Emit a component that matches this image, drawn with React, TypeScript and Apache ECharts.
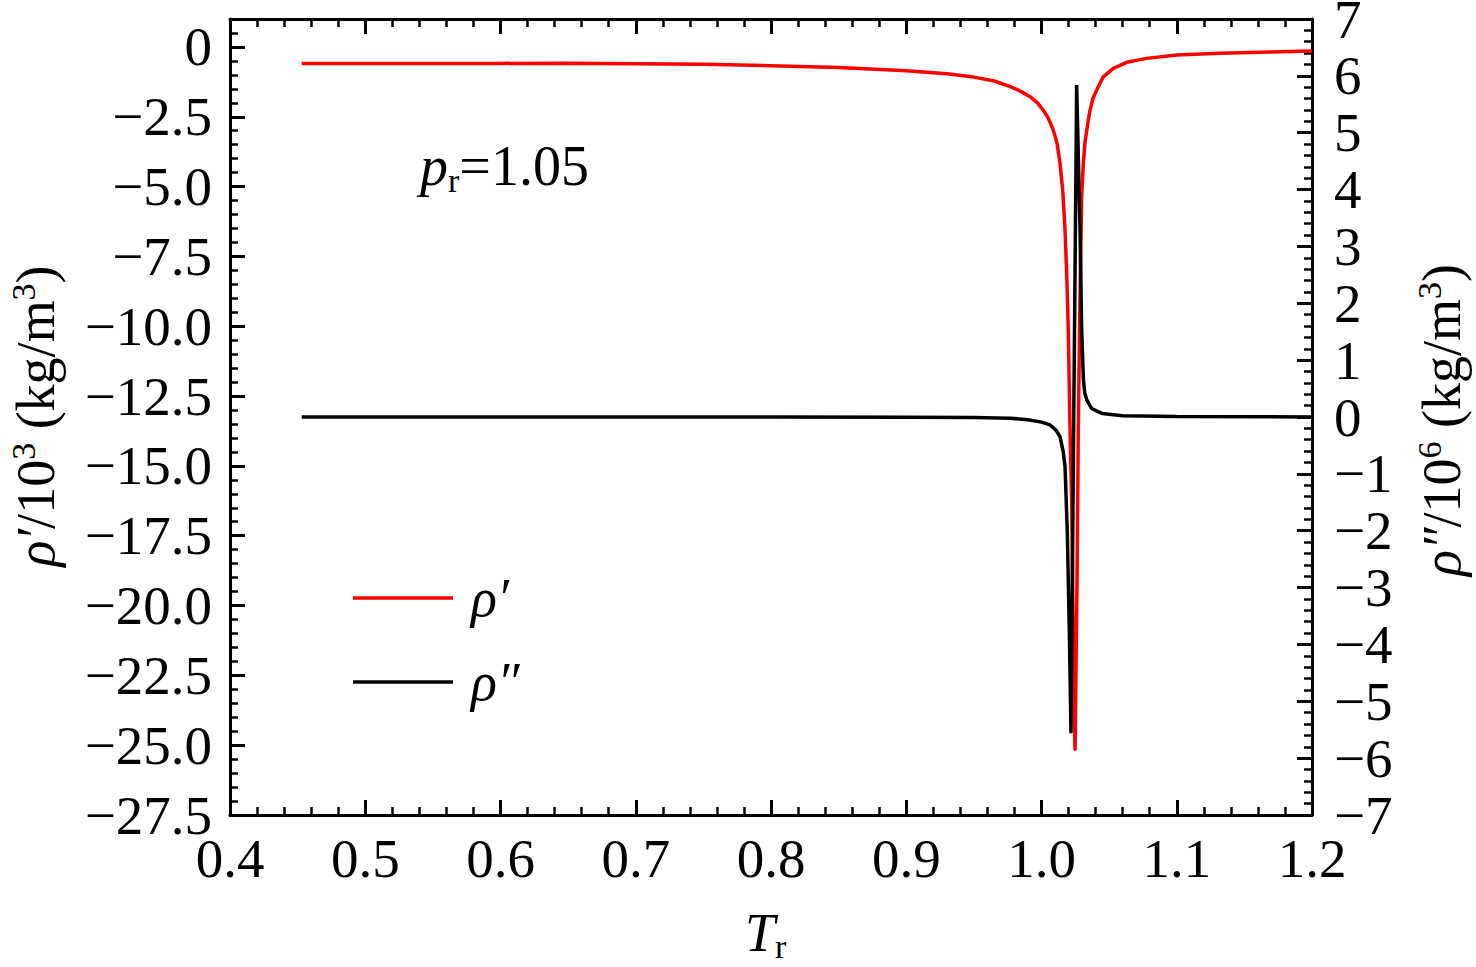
import React, { useEffect, useRef } from "react";
import * as echarts from "echarts";

// ρ′ (left axis, ×10^3 kg/m^3)
const trPrime = [
  0.453, 0.5, 0.55, 0.6, 0.65, 0.7, 0.75, 0.8, 0.85, 0.9, 0.93, 0.95, 0.965, 0.977,
  0.985, 0.9915, 0.997, 1.0013, 1.005, 1.0087, 1.0115, 1.0137, 1.0158, 1.0174, 1.0187,
  1.0198, 1.0211, 1.0223, 1.0235, 1.0248, 1.0262, 1.0272, 1.0285, 1.0297, 1.031, 1.0322,
  1.0346, 1.0359, 1.038, 1.0408, 1.0457, 1.0531, 1.063, 1.0778, 1.1, 1.132, 1.169, 1.2,
];
const rhoPrime = [
  -0.59, -0.59, -0.59, -0.59, -0.58, -0.6, -0.62, -0.67, -0.74, -0.85, -0.96, -1.08,
  -1.22, -1.42, -1.6, -1.78, -2.0, -2.26, -2.55, -2.97, -3.45, -4.17, -5.2, -6.55, -8.2,
  -10.1, -13.7, -16.2, -21.0, -25.2, -19.5, -13.7, -8.94, -5.36, -4.1, -3.4, -2.62, -2.26,
  -1.85, -1.54, -1.07, -0.77, -0.55, -0.41, -0.29, -0.23, -0.18, -0.15,
];

// ρ″ (right axis, ×10^6 kg/m^3)
const trDouble = [
  0.453, 0.6, 0.8, 0.9, 0.95, 0.977, 0.99, 1.0, 1.0063, 1.011, 1.0137, 1.016, 1.0174,
  1.0191, 1.0206, 1.0218, 1.026, 1.0285, 1.0297, 1.031, 1.032, 1.0335, 1.037, 1.045, 1.06,
  1.1, 1.2,
];
const rhoDouble = [
  0, 0, 0, -0.005, -0.01, -0.02, -0.05, -0.09, -0.14, -0.24, -0.35, -0.6, -0.87, -2.04,
  -3.8, -5.56, 5.84, 3.29, 1.53, 0.65, 0.42, 0.3, 0.15, 0.06, 0.02, 0.01, 0,
];

const legendNames = ["ρ′", "ρ″"];
const xRange = [0.4, 1.2];
const leftRange = [-27.5, 1.0];
const rightRange = [-7, 7];

const FONT = "Liberation Serif";
const fmtMinus = (s: string) => s.replace("-", "\u2212");

export default function App() {
  const ref = useRef<HTMLDivElement>(null);
  useEffect(() => {
    if (!ref.current) return;
    const chart = echarts.init(ref.current, undefined, { renderer: "svg" });
    const lineW = 3;
    const labelStyle = { fontFamily: FONT, fontSize: 55, color: "#000" };
    const baseAxisLine = { show: true, onZero: false, lineStyle: { color: "#000", width: lineW } };
    const majorTick = { show: true, inside: true, length: 15, lineStyle: { color: "#000", width: 3 } };
    const minorTick = { show: true, splitNumber: 5, length: 8, lineStyle: { color: "#000", width: 2.5 } };

    const option: any = {
      animation: false,
      grid: {
        left: 230,
        top: 19,
        width: 1082,
        height: 796,
        containLabel: false,
        outerBoundsMode: "none",
      },
      legend: {
        orient: "vertical",
        left: 348,
        top: 566,
        icon: "rect",
        itemWidth: 100,
        itemHeight: 3.5,
        itemGap: 30,
        data: legendNames,
        textStyle: {
          fontFamily: FONT,
          fontSize: 54,
          fontStyle: "italic",
          color: "#000",
          padding: [0, 0, 0, 13],
          lineHeight: 52,
        },
      },
      xAxis: [
        {
          type: "value",
          position: "bottom",
          min: xRange[0],
          max: xRange[1],
          interval: 0.1,
          axisLine: baseAxisLine,
          axisTick: majorTick,
          minorTick,
          splitLine: { show: false },
          axisLabel: {
            ...labelStyle,
            margin: 16,
            formatter: (v: number) => v.toFixed(1),
          },
        },
        {
          type: "value",
          position: "top",
          min: xRange[0],
          max: xRange[1],
          interval: 0.1,
          axisLine: baseAxisLine,
          axisTick: majorTick,
          minorTick,
          splitLine: { show: false },
          axisLabel: { show: false },
        },
      ],
      yAxis: [
        {
          type: "value",
          position: "left",
          min: leftRange[0],
          max: leftRange[1],
          interval: 2.5,
          axisLine: baseAxisLine,
          axisTick: majorTick,
          splitLine: { show: false },
          axisLabel: {
            ...labelStyle,
            margin: 18,
            lineHeight: 40,
            formatter: (v: number) => {
              const k = Math.round(v / 2.5);
              if (Math.abs(k * 2.5 - v) > 1e-6 || v > 0) return "";
              return v === 0 ? "0" : fmtMinus(v.toFixed(1));
            },
          },
        },
        {
          type: "value",
          position: "left",
          min: leftRange[0],
          max: leftRange[1],
          interval: 0.5,
          axisLine: { show: false, onZero: false },
          axisTick: { show: true, inside: true, length: 8, lineStyle: { color: "#000", width: 2.5 } },
          splitLine: { show: false },
          axisLabel: { show: false },
        },
        {
          type: "value",
          position: "right",
          min: rightRange[0],
          max: rightRange[1],
          interval: 1,
          axisLine: baseAxisLine,
          axisTick: majorTick,
          minorTick,
          splitLine: { show: false },
          axisLabel: {
            ...labelStyle,
            margin: 22,
            lineHeight: 38,
            formatter: (v: number) => fmtMinus(String(v)),
          },
        },
      ],
      series: [
        {
          name: legendNames[0],
          type: "line",
          xAxisIndex: 0,
          yAxisIndex: 0,
          symbol: "none",
          lineStyle: { color: "#ff0000", width: 3.5 },
          itemStyle: { color: "#ff0000" },
          data: trPrime.map((t, i) => [t, rhoPrime[i]]),
          z: 3,
        },
        {
          name: legendNames[1],
          type: "line",
          xAxisIndex: 0,
          yAxisIndex: 2,
          symbol: "none",
          lineStyle: { color: "#000000", width: 3.5 },
          itemStyle: { color: "#000000" },
          data: trDouble.map((t, i) => [t, rhoDouble[i]]),
          z: 4,
        },
      ],
      graphic: [
        {
          type: "text",
          left: 420,
          top: 138,
          style: {
            text: "{i|p}{s|r}{n|=1.05}",
            rich: {
              i: { fontFamily: FONT, fontSize: 56, fontStyle: "italic", fill: "#000", lineHeight: 62 },
              s: { fontFamily: FONT, fontSize: 34, fill: "#000", verticalAlign: "bottom", lineHeight: 30 },
              n: { fontFamily: FONT, fontSize: 56, fill: "#000", lineHeight: 62 },
            },
          },
        },
        {
          type: "text",
          left: 745,
          top: 906,
          style: {
            text: "{i|T}{s|r}",
            rich: {
              i: { fontFamily: FONT, fontSize: 54, fontStyle: "italic", fill: "#000", lineHeight: 60 },
              s: { fontFamily: FONT, fontSize: 34, fill: "#000", verticalAlign: "bottom", lineHeight: 30 },
            },
          },
        },
        {
          type: "text",
          x: 36,
          y: 416,
          rotation: Math.PI / 2,
          style: {
            text: "{i|ρ′}{n|/10}{p|3}{n| (kg/m}{p|3}{n|)}",
            align: "center",
            verticalAlign: "middle",
            rich: {
              i: { fontFamily: FONT, fontSize: 54, fontStyle: "italic", fill: "#000", lineHeight: 60 },
              n: { fontFamily: FONT, fontSize: 54, fill: "#000", lineHeight: 60 },
              p: { fontFamily: FONT, fontSize: 34, fill: "#000", verticalAlign: "top", lineHeight: 34 },
            },
          },
        },
        {
          type: "text",
          x: 1442,
          y: 420,
          rotation: Math.PI / 2,
          style: {
            text: "{i|ρ″}{n|/10}{p|6}{n| (kg/m}{p|3}{n|)}",
            align: "center",
            verticalAlign: "middle",
            rich: {
              i: { fontFamily: FONT, fontSize: 54, fontStyle: "italic", fill: "#000", lineHeight: 60 },
              n: { fontFamily: FONT, fontSize: 54, fill: "#000", lineHeight: 60 },
              p: { fontFamily: FONT, fontSize: 34, fill: "#000", verticalAlign: "top", lineHeight: 34 },
            },
          },
        },
      ],
    };
    chart.setOption(option);
    return () => chart.dispose();
  }, []);
  return (
    <div
      ref={ref}
      style={{ position: "fixed", left: 0, top: 0, width: 1476, height: 967, background: "#fff" }}
    />
  );
}
